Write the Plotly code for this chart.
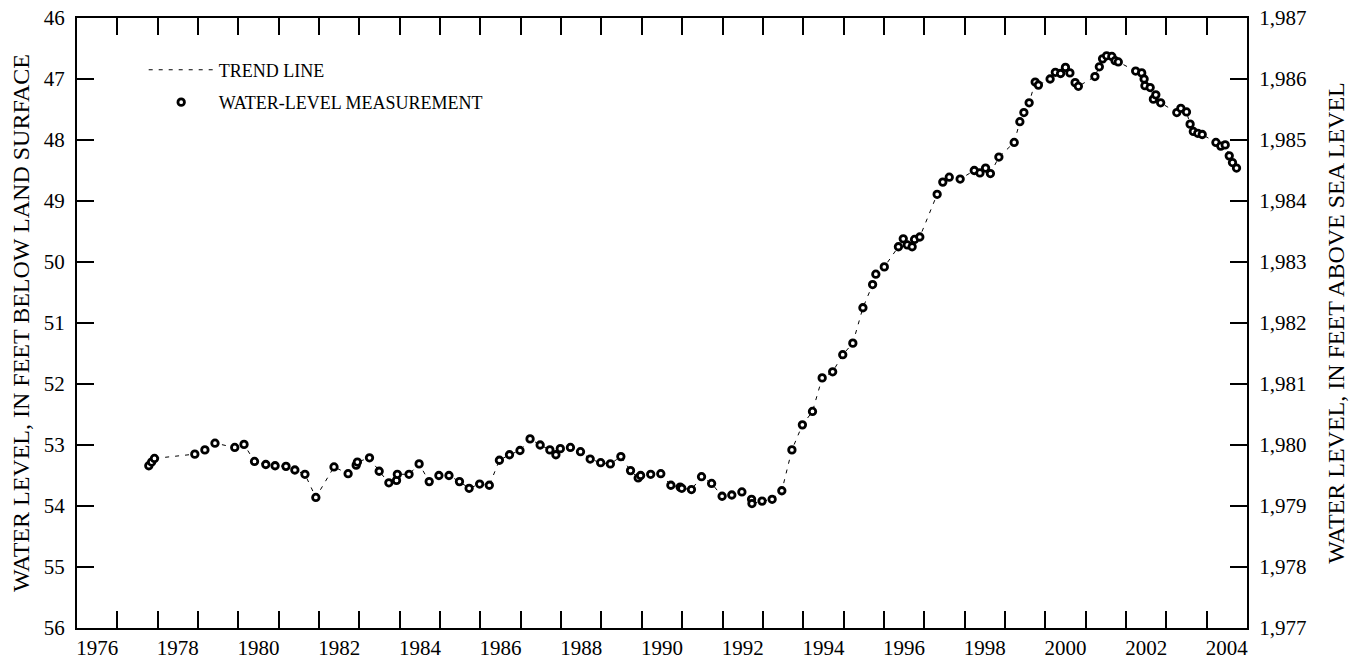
import plotly.graph_objects as go

# --- water-level measurements (decimal year, feet below land surface) ---
years = [
    1977.78, 1977.85, 1977.92, 1978.92, 1979.17, 1979.42, 1979.91, 1980.14,
    1980.40, 1980.68, 1980.91, 1981.18, 1981.40, 1981.65, 1981.92, 1982.37,
    1982.72, 1982.92, 1982.95, 1983.25, 1983.49, 1983.73, 1983.92, 1983.94,
    1984.23, 1984.48, 1984.73, 1984.97, 1985.22, 1985.48, 1985.72, 1985.98,
    1986.22, 1986.47, 1986.72, 1986.98, 1987.23, 1987.48, 1987.72, 1987.87,
    1987.98, 1988.23, 1988.48, 1988.72, 1988.98, 1989.22, 1989.48, 1989.72,
    1989.91, 1989.97, 1990.22, 1990.47, 1990.72, 1990.95, 1990.99, 1991.23,
    1991.48, 1991.73, 1991.99, 1992.23, 1992.48, 1992.72, 1992.73, 1992.98,
    1993.23, 1993.47, 1993.72, 1993.98, 1994.23, 1994.47, 1994.73, 1994.98,
    1995.23, 1995.48, 1995.72, 1995.80, 1996.01, 1996.36, 1996.48, 1996.58,
    1996.70, 1996.76, 1996.89, 1997.32, 1997.46, 1997.62, 1997.89, 1998.24,
    1998.38, 1998.52, 1998.64, 1998.85, 1999.23, 1999.37, 1999.47, 1999.60,
    1999.75, 1999.83, 2000.12, 2000.25, 2000.38, 2000.50, 2000.61, 2000.74,
    2000.82, 2001.23, 2001.34, 2001.42, 2001.52, 2001.65, 2001.73, 2001.81,
    2002.24, 2002.39, 2002.45, 2002.47, 2002.60, 2002.68, 2002.74, 2002.86,
    2003.26, 2003.36, 2003.50, 2003.59, 2003.67, 2003.78, 2003.89, 2004.23,
    2004.35, 2004.46, 2004.56, 2004.64, 2004.74,
]
depth = [
    53.34, 53.28, 53.22, 53.15, 53.08, 52.97, 53.04, 52.99,
    53.27, 53.32, 53.34, 53.35, 53.41, 53.48, 53.86, 53.36,
    53.47, 53.33, 53.28, 53.21, 53.43, 53.62, 53.58, 53.48,
    53.48, 53.31, 53.60, 53.50, 53.50, 53.60, 53.71, 53.64,
    53.66, 53.25, 53.16, 53.09, 52.90, 53.00, 53.08, 53.16,
    53.06, 53.04, 53.11, 53.23, 53.29, 53.31, 53.19, 53.42,
    53.54, 53.50, 53.48, 53.47, 53.66, 53.69, 53.71, 53.73,
    53.52, 53.63, 53.84, 53.82, 53.77, 53.89, 53.96, 53.92,
    53.89, 53.75, 53.08, 52.67, 52.45, 51.90, 51.80, 51.52,
    51.33, 50.75, 50.37, 50.20, 50.08, 49.75, 49.62, 49.72,
    49.75, 49.63, 49.59, 48.89, 48.69, 48.61, 48.64, 48.50,
    48.54, 48.46, 48.55, 48.28, 48.04, 47.70, 47.55, 47.39,
    47.05, 47.10, 47.00, 46.89, 46.91, 46.81, 46.90, 47.06,
    47.12, 46.96, 46.80, 46.67, 46.62, 46.63, 46.70, 46.72,
    46.87, 46.90, 47.00, 47.11, 47.14, 47.33, 47.26, 47.39,
    47.55, 47.48, 47.54, 47.74, 47.86, 47.89, 47.91, 48.04,
    48.10, 48.08, 48.26, 48.37, 48.46,
]

# land-surface altitude used for the right-hand axis
land_surface = 2033

# axis ticks
year_labels = [str(y) for y in range(1976, 2005, 2)]
year_label_pos = [y + 0.5 for y in range(1976, 2005, 2)]
depth_ticks = list(range(46, 57))
elev_ticks = list(range(1977, 1988))

FONT = "Liberation Serif"

fig = go.Figure()

# trend line (dashed, through measurements)
fig.add_trace(go.Scatter(
    x=years, y=depth, mode="lines", name="TREND LINE",
    line=dict(color="black", width=1, dash="4px,6px"),
    legendgroup="a",
))

# measurements
fig.add_trace(go.Scatter(
    x=years, y=depth, mode="markers", name="WATER-LEVEL MEASUREMENT",
    marker=dict(symbol="circle", size=6.5, color="white",
                line=dict(color="black", width=2.8)),
    legendgroup="b",
))

# right axis carrier (altitude above sea level)
fig.add_trace(go.Scatter(
    x=years, y=[land_surface - d for d in depth], yaxis="y2",
    mode="markers", marker=dict(opacity=0), showlegend=False,
    hoverinfo="skip",
))

tick_style = dict(ticklen=17, tickwidth=2, tickcolor="black")
axis_common = dict(
    showline=True, linecolor="black", linewidth=2,
    showgrid=False, zeroline=False, automargin=False,
    ticklabeloverflow="allow",
    tickfont=dict(family=FONT, size=21, color="black"),
)

# the page body adds an 8px offset, so the figure is 8px smaller
fig.update_layout(
    width=1352, height=652,
    paper_bgcolor="white", plot_bgcolor="white",
    margin=dict(l=69, r=113, t=10, b=32),
    font=dict(family=FONT, color="black"),
    # year labels sit in the middle of each year
    xaxis=dict(
        **axis_common,
        range=[1976, 2005],
        tickmode="array", tickvals=year_label_pos, ticktext=year_labels,
        ticks="", mirror=True,
    ),
    # year ticks at every year boundary, bottom and top
    xaxis2=dict(
        overlaying="x", side="bottom", anchor="y",
        range=[1976, 2005], tick0=1976, dtick=1,
        ticks="inside", **tick_style, mirror="ticks",
        showline=True, linecolor="black", linewidth=2,
        showticklabels=False, showgrid=False, zeroline=False,
        automargin=False,
    ),
    yaxis=dict(
        **axis_common, ticks="inside", **tick_style,
        range=[56, 46], tickmode="array", tickvals=depth_ticks,
        ticklabelstandoff=6,
        title=dict(text="WATER LEVEL, IN FEET BELOW LAND SURFACE",
                   font=dict(family=FONT, size=24, color="black"),
                   standoff=9),
    ),
    yaxis2=dict(
        **axis_common, ticks="inside", **tick_style,
        overlaying="y", side="right", anchor="x",
        range=[1977, 1987], tickmode="array", tickvals=elev_ticks,
        tickformat=",d", ticklabelstandoff=6,
        title=dict(text="WATER LEVEL, IN FEET ABOVE SEA LEVEL",
                   font=dict(family=FONT, size=24, color="black"),
                   standoff=21),
    ),
    legend=dict(
        x=0.057, y=0.945, xanchor="left", yanchor="top",
        bgcolor="rgba(0,0,0,0)", itemwidth=65,
        font=dict(family=FONT, size=18, color="black"),
        tracegroupgap=6,
    ),
    showlegend=True,
)

# empty trace on the tick axis so it is drawn
fig.add_trace(go.Scatter(x=[None], y=[None], xaxis="x2", showlegend=False,
                         hoverinfo="skip"))

fig.write_html("out.html")
